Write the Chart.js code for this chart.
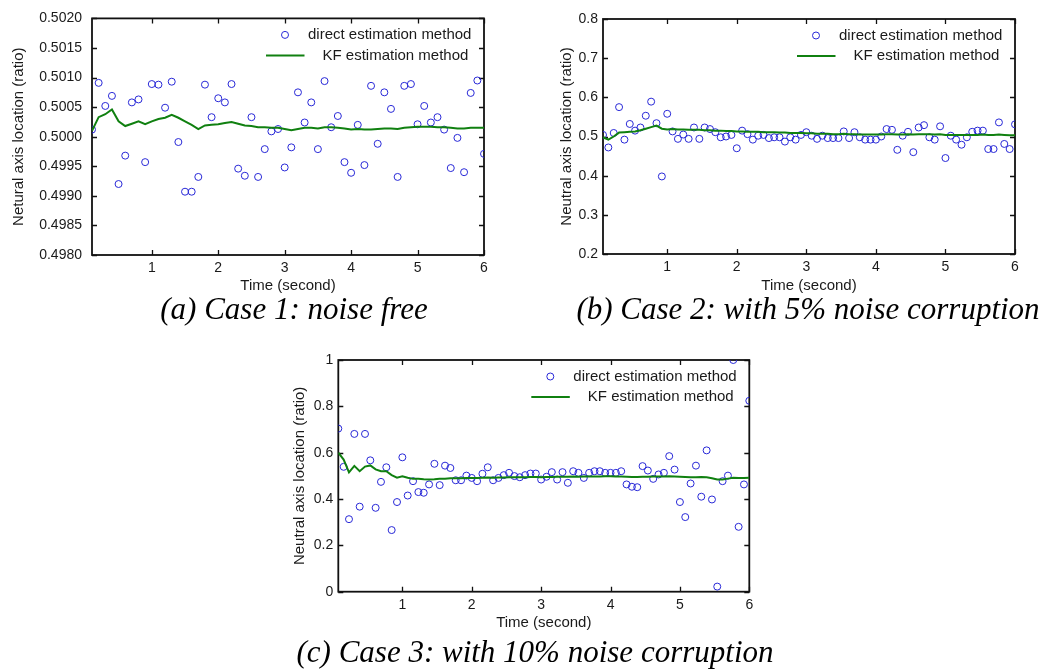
<!DOCTYPE html>
<html><head><meta charset="utf-8">
<script src="https://cdn.jsdelivr.net/npm/chart.js@4.4.1/dist/chart.umd.min.js"></script>
<style>
html,body{margin:0;padding:0;background:#fff;}
body{width:1041px;height:672px;position:relative;overflow:hidden;}
canvas{position:absolute;}
.cap{position:absolute;font:italic 31px 'Liberation Serif','Times New Roman',serif;color:#000;white-space:nowrap;transform:translate(-50%,-50%);line-height:1;}
</style></head><body>
<canvas id="ca" width="520" height="300" style="left:0;top:0"></canvas>
<canvas id="cb" width="501" height="300" style="left:540px;top:0"></canvas>
<canvas id="cc" width="510" height="300" style="left:270px;top:340px"></canvas>
<div class="cap" style="left:294px;top:308px">(a) Case 1: noise free</div>
<div class="cap" style="left:808px;top:308px">(b) Case 2: with 5% noise corruption</div>
<div class="cap" style="left:535px;top:651px">(c) Case 3: with 10% noise corruption</div>
<script>
// ---- data ----
const timeCoarse = [0.1,0.2,0.3,0.4,0.5,0.6,0.7,0.8,0.9,1.0,1.1,1.2,1.3,1.4,1.5,1.6,1.7,1.8,1.9,2.0,
  2.1,2.2,2.3,2.4,2.5,2.6,2.7,2.8,2.9,3.0,3.1,3.2,3.3,3.4,3.5,3.6,3.7,3.8,3.9,4.0,
  4.1,4.2,4.3,4.4,4.5,4.6,4.7,4.8,4.9,5.0,5.1,5.2,5.3,5.4,5.5,5.6,5.7,5.8,5.9,6.0];
const timeFine = [0.077,0.154,0.231,0.308,0.385,0.462,0.538,0.615,0.692,0.769,0.846,0.923,1.000,
  1.077,1.154,1.231,1.308,1.385,1.462,1.538,1.615,1.692,1.769,1.846,1.923,2.000,
  2.077,2.154,2.231,2.308,2.385,2.462,2.538,2.615,2.692,2.769,2.846,2.923,3.000,
  3.077,3.154,3.231,3.308,3.385,3.462,3.538,3.615,3.692,3.769,3.846,3.923,4.000,
  4.077,4.154,4.231,4.308,4.385,4.462,4.538,4.615,4.692,4.769,4.846,4.923,5.000,
  5.077,5.154,5.231,5.308,5.385,5.462,5.538,5.615,5.692,5.769,5.846,5.923,6.000];

const directA = [0.50012,0.50091,0.50052,0.50069,0.49920,0.49968,0.50058,0.50063,0.49957,0.50089,
  0.50088,0.50049,0.50093,0.49991,0.49907,0.49907,0.49932,0.50088,0.50033,0.50065,
  0.50058,0.50089,0.49946,0.49934,0.50033,0.49932,0.49979,0.50009,0.50013,0.49948,
  0.49982,0.50075,0.50024,0.50058,0.49979,0.50094,0.50016,0.50035,0.49957,0.49939,
  0.50020,0.49952,0.50086,0.49988,0.50075,0.50047,0.49932,0.50086,0.50089,0.50021,
  0.50052,0.50024,0.50033,0.50012,0.49947,0.49998,0.49940,0.50074,0.50095,0.49971];
const kfA = [0.50010,0.50033,0.50038,0.50046,0.50026,0.50018,0.50022,0.50026,0.50021,0.50026,
  0.50030,0.50032,0.50037,0.50032,0.50026,0.50020,0.50013,0.50019,0.50020,0.50021,
  0.50023,0.50025,0.50022,0.50019,0.50018,0.50016,0.50016,0.50015,0.50015,0.50013,
  0.50011,0.50013,0.50015,0.50015,0.50014,0.50016,0.50016,0.50015,0.50014,0.50012,
  0.50013,0.50012,0.50012,0.50013,0.50014,0.50014,0.50013,0.50015,0.50016,0.50017,
  0.50017,0.50017,0.50016,0.50016,0.50015,0.50014,0.50014,0.50015,0.50015,0.50015];

const directB = [0.504,0.472,0.509,0.575,0.492,0.532,0.515,0.523,0.553,0.589,0.534,0.398,0.558,
  0.513,0.494,0.505,0.494,0.523,0.494,0.523,0.519,0.511,0.498,0.500,0.504,0.470,
  0.515,0.506,0.492,0.502,0.504,0.496,0.498,0.498,0.487,0.498,0.492,0.504,0.511,0.502,
  0.494,0.502,0.496,0.496,0.496,0.513,0.496,0.511,0.498,0.492,0.492,0.492,0.500,
  0.519,0.517,0.466,0.502,0.512,0.460,0.523,0.529,0.498,0.492,0.526,0.445,0.502,
  0.492,0.479,0.498,0.512,0.515,0.515,0.468,0.468,0.536,0.481,0.468,0.531];
const kfB = [0.498,0.492,0.500,0.510,0.511,0.512,0.513,0.516,0.520,0.524,0.528,0.520,0.518,
  0.519,0.518,0.518,0.517,0.517,0.517,0.516,0.516,0.515,0.515,0.514,0.514,0.513,
  0.513,0.512,0.512,0.512,0.511,0.511,0.511,0.510,0.510,0.509,0.509,0.509,0.508,0.508,
  0.507,0.507,0.507,0.506,0.506,0.507,0.506,0.506,0.505,0.505,
  0.505,0.505,0.505,0.506,0.506,0.505,0.505,0.506,0.505,0.506,
  0.506,0.506,0.505,0.506,0.504,0.504,0.504,0.504,0.504,0.504,
  0.504,0.505,0.504,0.504,0.505,0.504,0.503,0.503];

const directC = [0.704,0.539,0.313,0.681,0.367,0.681,0.567,0.362,0.474,0.537,0.266,0.387,0.580,
  0.415,0.477,0.430,0.427,0.463,0.552,0.460,0.544,0.534,0.481,0.481,0.501,0.491,
  0.477,0.509,0.537,0.481,0.491,0.503,0.513,0.499,0.494,0.503,0.510,0.510,0.484,0.496,
  0.516,0.484,0.516,0.470,0.520,0.513,0.491,0.513,0.520,0.520,0.513,0.513,0.513,
  0.520,0.463,0.453,0.451,0.542,0.523,0.487,0.506,0.513,0.585,0.527,0.387,0.322,
  0.467,0.544,0.410,0.610,0.398,0.022,0.477,0.501,1.000,0.280,0.463,0.824];
const kfC = [0.600,0.570,0.515,0.543,0.520,0.540,0.545,0.528,0.520,0.520,0.503,0.492,0.498,
  0.492,0.487,0.487,0.485,0.484,0.485,0.487,0.488,0.490,0.490,0.490,0.491,0.491,
  0.491,0.492,0.493,0.492,0.493,0.493,0.494,0.494,0.494,0.494,0.495,0.495,0.494,0.495,
  0.495,0.496,0.496,0.496,0.497,0.496,0.497,0.497,0.497,0.497,
  0.498,0.498,0.497,0.497,0.496,0.495,0.495,0.496,0.496,0.497,
  0.497,0.497,0.498,0.497,0.496,0.495,0.494,0.494,0.495,0.494,
  0.490,0.484,0.484,0.488,0.492,0.491,0.491,0.492];

const xTicks = [1,2,3,4,5,6];
const xTickLabels = ['1','2','3','4','5','6'];
const yTicksA = [0.4980,0.4985,0.4990,0.4995,0.5000,0.5005,0.5010,0.5015,0.5020];
const yTickLabelsA = ['0.4980','0.4985','0.4990','0.4995','0.5000','0.5005','0.5010','0.5015','0.5020'];
const yTicksB = [0.2,0.3,0.4,0.5,0.6,0.7,0.8];
const yTickLabelsB = ['0.2','0.3','0.4','0.5','0.6','0.7','0.8'];
const yTicksC = [0,0.2,0.4,0.6,0.8,1];
const yTickLabelsC = ['0','0.2','0.4','0.6','0.8','1'];

const legendLabels = ['direct estimation method','KF estimation method'];
const xTitle = 'Time (second)';

// ---- drawing ----
const FONT = "'Liberation Sans', Arial, Helvetica, sans-serif";
const TXT = '#1a1a1a';
const BLUE = 'rgb(40,40,215)';
const GREEN = 'rgb(16,128,16)';

function pts(t, v){ return t.map((x,i)=>({x:x, y:v[i]})); }

function makePanel(id, c){
  const plugin = {
    id: 'frame_'+id,
    beforeDatasetsDraw(chart){
      const {ctx, chartArea:a, scales:{x,y}} = chart;
      ctx.save();
      ctx.strokeStyle = '#111';
      ctx.lineWidth = 1.3;
      ctx.beginPath();
      xTicks.forEach(v=>{ const p = Math.round(x.getPixelForValue(v))+0.5;
        ctx.moveTo(p,a.bottom); ctx.lineTo(p,a.bottom-5); ctx.moveTo(p,a.top); ctx.lineTo(p,a.top+5); });
      c.yTicks.forEach(v=>{ const p = Math.round(y.getPixelForValue(v))+0.5;
        ctx.moveTo(a.left,p); ctx.lineTo(a.left+5,p); ctx.moveTo(a.right,p); ctx.lineTo(a.right-5,p); });
      ctx.stroke();
      ctx.lineWidth = 1.8;
      ctx.strokeRect(a.left, a.top, a.right-a.left, a.bottom-a.top);
      ctx.restore();
    },
    afterDatasetsDraw(chart){
      const {ctx, chartArea:a} = chart;
      const R = a.right, T = a.top;
      ctx.save();
      ctx.strokeStyle = BLUE; ctx.lineWidth = 1;
      ctx.beginPath(); ctx.arc(R-199, T+16.5, 3.5, 0, Math.PI*2); ctx.stroke();
      ctx.strokeStyle = GREEN; ctx.lineWidth = 2;
      ctx.beginPath(); ctx.moveTo(R-218, T+37); ctx.lineTo(R-179.5, T+37); ctx.stroke();
      ctx.fillStyle = TXT; ctx.font = '15px '+FONT; ctx.textBaseline = 'middle'; ctx.textAlign = 'left';
      ctx.fillText(legendLabels[0], R-176, T+16.5);
      ctx.fillText(legendLabels[1], R-161.5, T+37);
      ctx.restore();
    }
  };
  new Chart(document.getElementById(id), {
    type: 'scatter',
    data: { datasets: [
      { label: legendLabels[1], data: pts(c.t, c.kf), showLine: true, borderColor: GREEN, borderWidth: 2,
        pointRadius: 0, pointHoverRadius: 0, fill: false, tension: 0 },
      { label: legendLabels[0], data: pts(c.t, c.direct), showLine: false, pointStyle: 'circle',
        pointRadius: 3.5, pointBorderWidth: 1, pointBorderColor: BLUE, pointBackgroundColor: 'rgba(0,0,0,0)',
        borderColor: BLUE, backgroundColor: 'rgba(0,0,0,0)' }
    ]},
    options: {
      responsive: false, animation: false, devicePixelRatio: 1,
      layout: { padding: { top: c.padTop, right: c.padRight, left: 0, bottom: 0 } },
      plugins: { legend: { display: false }, tooltip: { enabled: false } },
      events: [],
      scales: {
        x: { type: 'linear', min: c.xMin, max: 6,
          grid: { display: false, drawTicks: false }, border: { display: false },
          afterBuildTicks: s => { s.ticks = xTicks.map(v=>({value:v})); },
          afterFit: s => { s.height = c.xHeight; },
          ticks: { autoSkip: false, maxRotation: 0, padding: 5, color: TXT,
            font: { family: FONT, size: 14 }, callback: (v,i) => xTickLabels[i] },
          title: { display: true, text: xTitle, color: TXT, font: { family: FONT, size: 15 },
            padding: { top: 0, bottom: c.xTitlePad } }
        },
        y: { type: 'linear', min: c.yTicks[0], max: c.yTicks[c.yTicks.length-1],
          grid: { display: false, drawTicks: false }, border: { display: false },
          afterBuildTicks: s => { s.ticks = c.yTicks.map(v=>({value:v})); },
          afterFit: s => { s.width = c.yWidth; },
          ticks: { autoSkip: false, padding: c.yTickPad, color: TXT,
            font: { family: FONT, size: 14 }, callback: (v,i) => c.yLabels[i] },
          title: { display: true, text: c.yTitle, color: TXT, font: { family: FONT, size: 15 },
            padding: { top: c.yTitlePad, bottom: 0 } }
        }
      }
    },
    plugins: [plugin]
  });
}

makePanel('ca', { t: timeCoarse, direct: directA, kf: kfA, xMin: 0.1,
  yTicks: yTicksA, yLabels: yTickLabelsA, yTitle: 'Netural axis location (ratio)',
  padTop: 8, padRight: 36, yWidth: 92, xHeight: 45, yTickPad: 10, yTitlePad: 10, xTitlePad: 5 });
makePanel('cb', { t: timeFine, direct: directB, kf: kfB, xMin: 0.077,
  yTicks: yTicksB, yLabels: yTickLabelsB, yTitle: 'Neutral axis location (ratio)',
  padTop: 19, padRight: 26, yWidth: 63, xHeight: 46, yTickPad: 5, yTitlePad: 17.7, xTitlePad: 5.5 });
makePanel('cc', { t: timeFine, direct: directC, kf: kfC, xMin: 0.077,
  yTicks: yTicksC, yLabels: yTickLabelsC, yTitle: 'Neutral axis location (ratio)',
  padTop: 20, padRight: 30.7, yWidth: 68.3, xHeight: 48.3, yTickPad: 5, yTitlePad: 21, xTitlePad: 8 });
</script>
</body></html>
